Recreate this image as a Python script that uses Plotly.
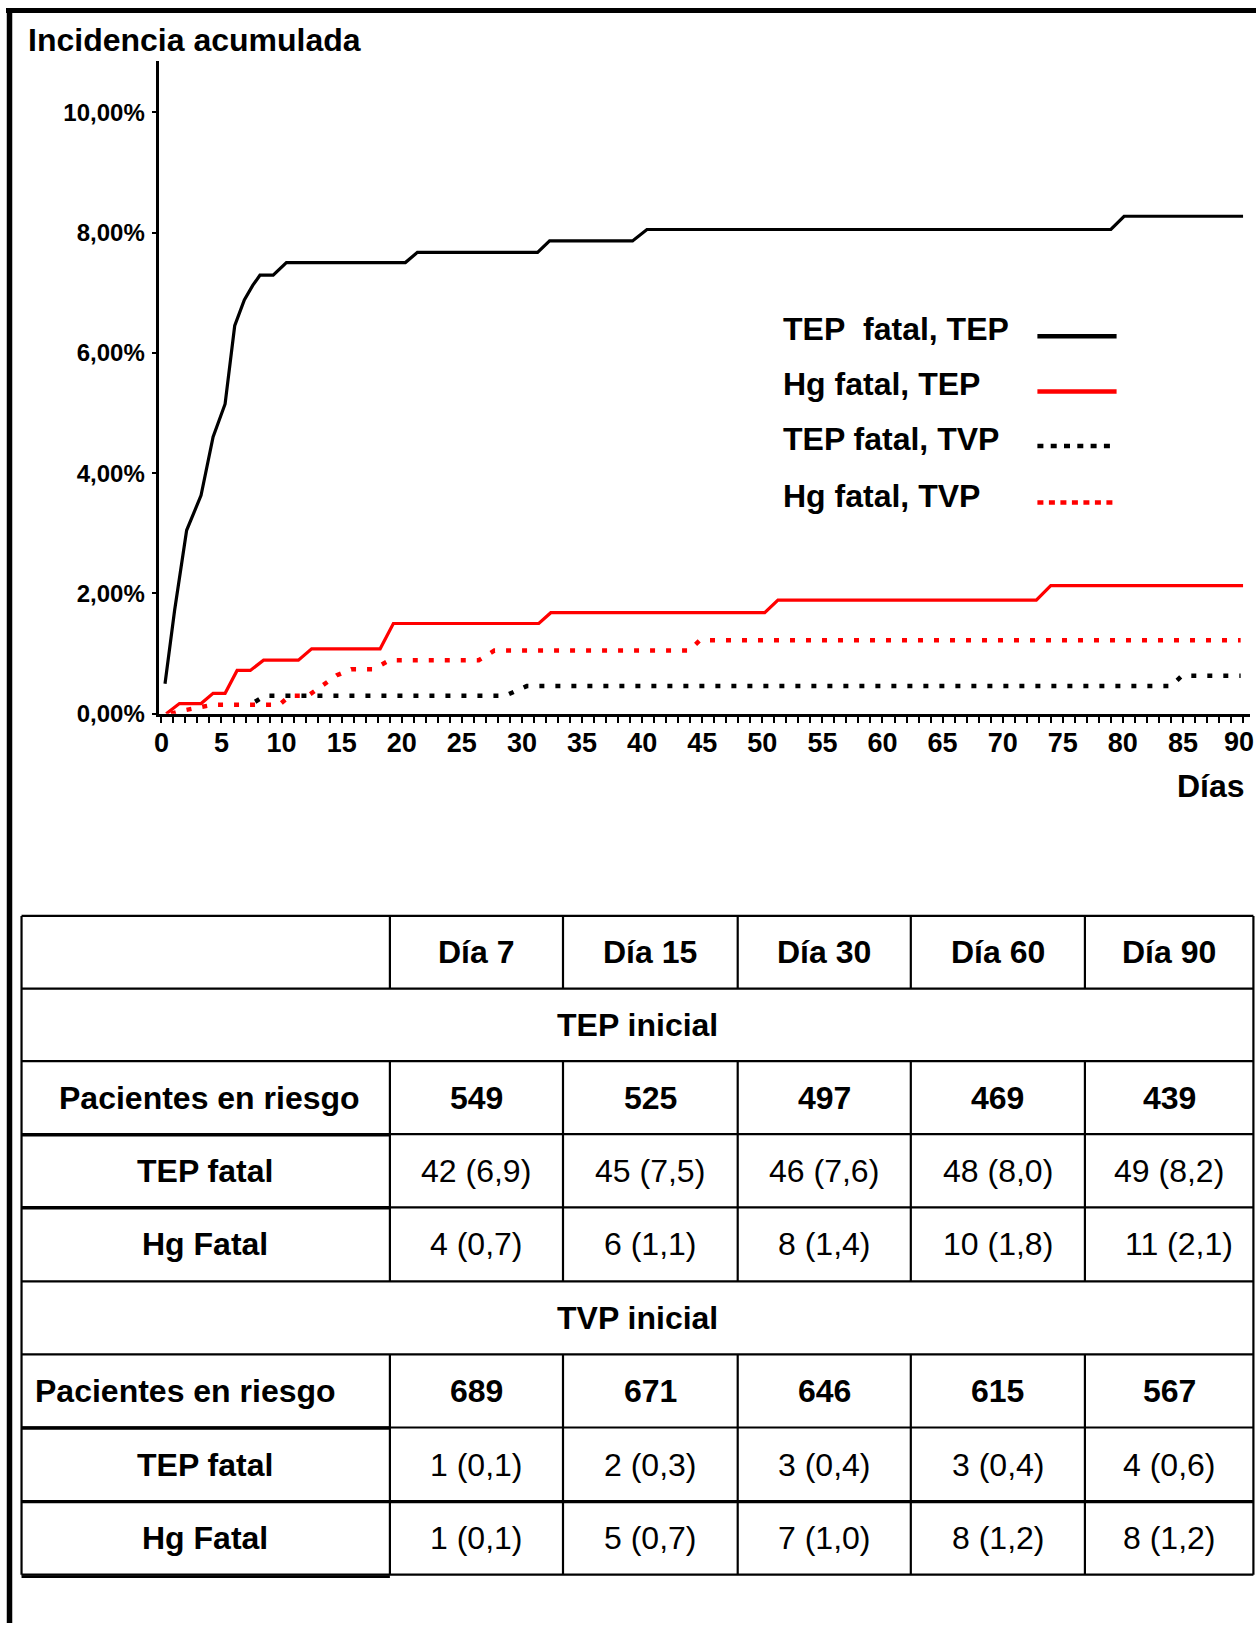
import plotly.graph_objects as go

W, H = 1256, 1636

# ---------------- data ----------------
days_tep_fatal_tep = [0.3, 1.1, 2.1, 3.3, 4.3, 5.3, 6.1, 6.9, 7.6, 8.2, 9.3, 10.4, 20.3, 21.3, 31.3, 32.3, 39.2, 40.4, 79.0, 80.1, 90.0]
pct_tep_fatal_tep = [0.50, 1.72, 3.05, 3.63, 4.60, 5.15, 6.45, 6.88, 7.12, 7.29, 7.29, 7.50, 7.50, 7.67, 7.67, 7.86, 7.86, 8.05, 8.05, 8.27, 8.27]

days_hg_fatal_tep = [0.4, 1.5, 3.3, 4.3, 5.3, 6.3, 7.4, 8.5, 11.4, 12.5, 18.2, 19.3, 31.4, 32.4, 50.2, 51.3, 72.8, 74.0, 90.0]
pct_hg_fatal_tep = [0.00, 0.17, 0.17, 0.34, 0.34, 0.72, 0.72, 0.89, 0.89, 1.08, 1.08, 1.50, 1.50, 1.68, 1.68, 1.89, 1.89, 2.13, 2.13]

days_tep_fatal_tvp = [7.8, 8.6, 28.6, 30.4, 84.0, 84.9, 89.8]
pct_tep_fatal_tvp = [0.20, 0.30, 0.30, 0.46, 0.46, 0.63, 0.63]

days_hg_fatal_tvp = [0.8, 1.7, 4.3, 9.8, 10.7, 12.2, 13.4, 14.6, 15.8, 17.6, 19.0, 26.4, 27.7, 43.9, 44.8, 89.8]
pct_hg_fatal_tvp = [0.00, 0.05, 0.15, 0.15, 0.30, 0.30, 0.47, 0.64, 0.74, 0.74, 0.89, 0.89, 1.05, 1.05, 1.22, 1.22]

y_tick_vals = [0, 2, 4, 6, 8, 10]
y_tick_text = ["0,00%", "2,00%", "4,00%", "6,00%", "8,00%", "10,00%"]
x_tick_vals = [0, 5, 10, 15, 20, 25, 30, 35, 40, 45, 50, 55, 60, 65, 70, 75, 80, 85]
x_last_tick_label = "90"

y_title = "Incidencia acumulada"
x_title = "Días"
legend_labels = ["TEP\u00a0 fatal, TEP", "Hg fatal, TEP", "TEP fatal, TVP", "Hg fatal, TVP"]

table_days = ["Día 7", "Día 15", "Día 30", "Día 60", "Día 90"]
section_tep = "TEP inicial"
section_tvp = "TVP inicial"
row_labels = ["Pacientes en riesgo", "TEP fatal", "Hg Fatal"]
tep_at_risk = ["549", "525", "497", "469", "439"]
tep_tep_fatal = ["42 (6,9)", "45 (7,5)", "46 (7,6)", "48 (8,0)", "49 (8,2)"]
tep_hg_fatal = ["4 (0,7)", "6 (1,1)", "8 (1,4)", "10 (1,8)", "11 (2,1)"]
tvp_at_risk = ["689", "671", "646", "615", "567"]
tvp_tep_fatal = ["1 (0,1)", "2 (0,3)", "3 (0,4)", "3 (0,4)", "4 (0,6)"]
tvp_hg_fatal = ["1 (0,1)", "5 (0,7)", "7 (1,0)", "8 (1,2)", "8 (1,2)"]

# ---------------- styles ----------------
SANS = "Liberation Sans, Arial, Helvetica, sans-serif"
RED = "#ff0000"
BLACK = "#000000"


def fx(p):
    return min(1.0, max(0.0, ((p - 8.0) / 0.9937) / W))


def fy(p):
    return 1 - (p / 0.991) / H


fig = go.Figure()

fig.add_trace(go.Scatter(x=days_tep_fatal_tep, y=pct_tep_fatal_tep, mode="lines",
                         line=dict(color=BLACK, width=3.2), showlegend=False))
fig.add_trace(go.Scatter(x=days_hg_fatal_tep, y=pct_hg_fatal_tep, mode="lines",
                         line=dict(color=RED, width=3.2), showlegend=False))
fig.add_trace(go.Scatter(x=days_tep_fatal_tvp, y=pct_tep_fatal_tvp, mode="lines",
                         line=dict(color=BLACK, width=4.5, dash="5px,11px"), showlegend=False))
fig.add_trace(go.Scatter(x=days_hg_fatal_tvp, y=pct_hg_fatal_tvp, mode="lines",
                         line=dict(color=RED, width=4.5, dash="5px,11px"), showlegend=False))

annotations = []
shapes = []

# titles
annotations.append(dict(text=y_title, x=fx(28.5), y=fy(39.5), xref="paper", yref="paper",
                        xanchor="left", yanchor="middle", showarrow=False,
                        font=dict(family=SANS, size=32, color=BLACK, weight="bold")))
annotations.append(dict(text=x_title, x=fx(1247), y=fy(785), xref="paper", yref="paper",
                        xanchor="right", yanchor="middle", showarrow=False,
                        font=dict(family=SANS, size=32, color=BLACK, weight="bold")))
# last x tick label, kept inside the page edge
annotations.append(dict(text=x_last_tick_label, x=1.0, y=fy(741.7), xref="paper", yref="paper",
                        xanchor="right", yanchor="middle", showarrow=False,
                        font=dict(family=SANS, size=27, color=BLACK, weight="bold")))

# legend (manual)
leg_y = [329, 384, 439, 495]
leg_line_y = [336, 391, 445.5, 502]
leg_colors = [BLACK, RED, BLACK, RED]
leg_dash = ["solid", "solid", "6px,7.3px", "6px,5.5px"]
for i, lab in enumerate(legend_labels):
    annotations.append(dict(text=lab, x=fx(782), y=fy(leg_y[i]), xref="paper", yref="paper",
                            xanchor="left", yanchor="middle", showarrow=False,
                            font=dict(family=SANS, size=32, color=BLACK, weight="bold")))
    shapes.append(dict(type="line", xref="paper", yref="paper",
                       x0=fx(1038), x1=fx(1117), y0=fy(leg_line_y[i]), y1=fy(leg_line_y[i]),
                       line=dict(color=leg_colors[i], width=4.5, dash=leg_dash[i])))

# outer frame (top + left)
shapes.append(dict(type="line", xref="paper", yref="paper", x0=fx(9), x1=1.0,
                   y0=fy(10.4), y1=fy(10.4), line=dict(color=BLACK, width=5)))
shapes.append(dict(type="line", xref="paper", yref="paper", x0=fx(12.5), x1=fx(12.5),
                   y0=fy(8), y1=0.0, line=dict(color=BLACK, width=5.5)))

# table
col_edges = [24.5, 392, 564.7, 739, 911.7, 1085.4, 1253.5]
row_edges = [915, 987.5, 1060, 1133, 1206, 1280, 1353, 1426, 1500, 1573]
LW = 2.2

for r in row_edges:
    shapes.append(dict(type="line", xref="paper", yref="paper", x0=fx(col_edges[0]), x1=fx(col_edges[-1]),
                       y0=fy(r), y1=fy(r), line=dict(color=BLACK, width=LW)))
for r in [1133, 1206, 1426]:
    shapes.append(dict(type="line", xref="paper", yref="paper", x0=fx(col_edges[0]), x1=fx(col_edges[1]),
                       y0=fy(r + 0.5), y1=fy(r + 0.5), line=dict(color=BLACK, width=3.4)))
shapes.append(dict(type="line", xref="paper", yref="paper", x0=fx(col_edges[0]), x1=fx(col_edges[-1]),
                   y0=fy(1500), y1=fy(1500), line=dict(color=BLACK, width=3.4)))
shapes.append(dict(type="line", xref="paper", yref="paper", x0=fx(col_edges[0]), x1=fx(col_edges[1]),
                   y0=fy(1575), y1=fy(1575), line=dict(color=BLACK, width=2.6)))

for c in [col_edges[0], col_edges[-1]]:
    shapes.append(dict(type="line", xref="paper", yref="paper", x0=fx(c), x1=fx(c),
                       y0=fy(row_edges[0]), y1=fy(row_edges[-1]), line=dict(color=BLACK, width=LW)))
segments = [(0, 1), (2, 5), (6, 9)]
for a, b in segments:
    for c in col_edges[1:-1]:
        shapes.append(dict(type="line", xref="paper", yref="paper", x0=fx(c), x1=fx(c),
                           y0=fy(row_edges[a]), y1=fy(row_edges[b]), line=dict(color=BLACK, width=LW)))

col_centers = [(col_edges[i] + col_edges[i + 1]) / 2 for i in range(6)]
row_centers = [(row_edges[i] + row_edges[i + 1]) / 2 for i in range(9)]
table_center_x = (col_edges[0] + col_edges[-1]) / 2


def cell(text, xc, yc, bold, size=32, xshift=0):
    f = dict(family=SANS, size=size, color=BLACK)
    if bold:
        f["weight"] = "bold"
    annotations.append(dict(text=text, x=fx(xc), y=fy(yc), xref="paper", yref="paper",
                            xanchor="center", yanchor="middle", showarrow=False, font=f,
                            xshift=xshift))


for j, d in enumerate(table_days):
    cell(d, col_centers[j + 1], row_centers[0], True)
cell(section_tep, table_center_x, row_centers[1], True)
cell(section_tvp, table_center_x, row_centers[5], True)

label_x = [212, 207.5, 207.5]
label_x_tvp = [188, 207.5, 207.5]
for k, lab in enumerate(row_labels):
    cell(lab, label_x[k], row_centers[2 + k], True)
    cell(lab, label_x_tvp[k], row_centers[6 + k], True)

for j in range(5):
    cell(tep_at_risk[j], col_centers[j + 1], row_centers[2], True)
    cell(tep_tep_fatal[j], col_centers[j + 1], row_centers[3], False)
    cell(tep_hg_fatal[j], col_centers[j + 1], row_centers[4], False, xshift=(10 if j == 4 else 0))
    cell(tvp_at_risk[j], col_centers[j + 1], row_centers[6], True)
    cell(tvp_tep_fatal[j], col_centers[j + 1], row_centers[7], False)
    cell(tvp_hg_fatal[j], col_centers[j + 1], row_centers[8], False)

fig.update_layout(
    width=W, height=H,
    margin=dict(l=0, r=0, t=0, b=0, pad=0),
    paper_bgcolor="white", plot_bgcolor="white",
    showlegend=False,
    annotations=annotations,
    shapes=shapes,
    xaxis=dict(
        domain=[fx(162), fx(1250)], range=[-0.17, 90.57],
        showgrid=False, zeroline=False,
        showline=True, linecolor=BLACK, linewidth=2.6,
        tickmode="array", tickvals=x_tick_vals, ticktext=[str(v) for v in x_tick_vals],
        ticks="outside", ticklen=6, tickwidth=2.2, tickcolor=BLACK,
        minor=dict(dtick=1, tick0=0, ticks="outside", ticklen=6, tickwidth=2.2, tickcolor=BLACK),
        tickfont=dict(family=SANS, size=27, color=BLACK, weight="bold"),
        ticklabelstandoff=-3,
        fixedrange=True,
    ),
    yaxis=dict(
        domain=[fy(713), fy(61)], range=[0, 10.85],
        showgrid=False, zeroline=False,
        showline=True, linecolor=BLACK, linewidth=2.6,
        tickmode="array", tickvals=y_tick_vals, ticktext=y_tick_text,
        ticks="outside", ticklen=5, tickwidth=1.5, tickcolor=BLACK,
        tickfont=dict(family=SANS, size=24, color=BLACK, weight="bold"),
        ticklabelstandoff=2,
        fixedrange=True,
    ),
)

fig.write_html("out.html")
